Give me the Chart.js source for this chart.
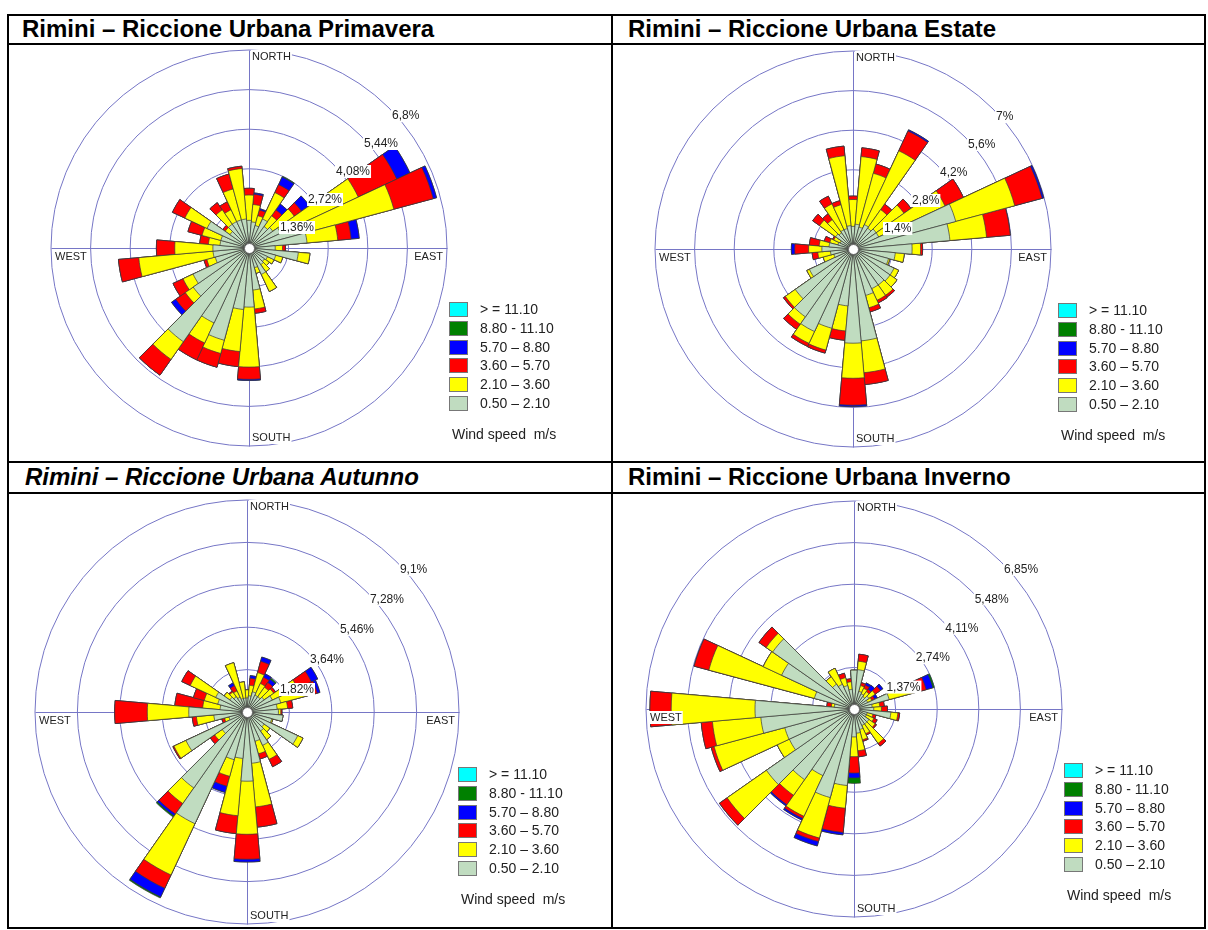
<!DOCTYPE html>
<html>
<head>
<meta charset="utf-8">
<script src="https://cdn.jsdelivr.net/npm/chart.js@4.4.1/dist/chart.umd.min.js"></script>
<style>
body { margin: 0; background: #fff; font-family: "Liberation Sans", Arial, sans-serif; }
#page { position: relative; width: 1208px; height: 930px; overflow: hidden; background: #fff; }
.line { position: absolute; background: #000; }
.title { position: absolute; font-weight: bold; font-size: 24px; line-height: 28px; color: #000; white-space: nowrap; }
.rose { position: absolute; }
.legend { position: absolute; font-size: 14px; color: #222; white-space: nowrap; }
.legend .row { position: absolute; left: 0; height: 15px; line-height: 15px; }
.legend .box { position: absolute; left: 0; top: 0; width: 17px; height: 13px; border: 1px solid #777; }
.legend .txt { position: absolute; left: 31px; top: 0; }
.legend .unit { position: absolute; left: 3px; }
</style>
</head>
<body>
<div id="page">
  <div class="line" style="left:7px;top:14px;width:1199px;height:2px"></div>
  <div class="line" style="left:7px;top:43px;width:1199px;height:2px"></div>
  <div class="line" style="left:7px;top:461px;width:1199px;height:2px"></div>
  <div class="line" style="left:7px;top:492px;width:1199px;height:2px"></div>
  <div class="line" style="left:7px;top:927px;width:1199px;height:2px"></div>
  <div class="line" style="left:7px;top:14px;width:2px;height:915px"></div>
  <div class="line" style="left:611px;top:14px;width:2px;height:915px"></div>
  <div class="line" style="left:1204px;top:14px;width:2px;height:915px"></div>

  <div class="title" style="left:22px;top:15px">Rimini – Riccione Urbana Primavera</div>
  <div class="title" style="left:628px;top:15px">Rimini – Riccione Urbana Estate</div>
  <div class="title" style="left:25px;top:463px;font-style:italic">Rimini – Riccione Urbana Autunno</div>
  <div class="title" style="left:628px;top:463px">Rimini – Riccione Urbana Inverno</div>
</div>

<script>
// wind directions, clockwise from north
const directions = ['0°', '10°', '20°', '30°', '40°', '50°', '60°', '70°', '80°', '90°', '100°', '110°',
    '120°', '130°', '140°', '150°', '160°', '170°', '180°', '190°', '200°', '210°', '220°', '230°',
    '240°', '250°', '260°', '270°', '280°', '290°', '300°', '310°', '320°', '330°', '340°', '350°'];

// speed classes (m/s), inner to outer
const classLabels = ['0.50 – 2.10', '2.10 – 3.60', '3.60 – 5.70', '5.70 – 8.80', '8.80 - 11.10', '> = 11.10'];
const classColors = ['#c0dcc0', '#ffff00', '#ff0000', '#0000ff', '#008000', '#00ffff'];

/* Primavera (% frequency per class) */
const primRings = [1.36, 2.72, 4.08, 5.44, 6.8];
const primRingLabels = ['1,36%', '2,72%', '4,08%', '5,44%', '6,8%'];
const prim050 = [0.95, 0.9, 0.8, 1.1, 0.9, 1.0, 1.2, 2.06, 2.0, 0.9, 1.7, 0.95, 0.7, 0.65, 0.7, 1.0, 0.7, 1.45,
    2.03, 2.12, 3.28, 2.84, 3.93, 2.34, 2.12, 1.2, 1.24, 1.24, 1.0, 1.0, 1.59, 0.8, 1.0, 1.0, 1.0, 1.0];
const prim210 = [0.87, 0.6, 0.35, 1.0, 0.45, 0.9, 2.94, 3.09, 1.06, 0.25, 0.4, 0.25, 0.25, 0.2, 0.3, 0.65, 0.2, 0.65,
    2.06, 1.45, 0.47, 0.76, 0.74, 0.33, 0.38, 0.3, 2.56, 1.31, 0.4, 0.67, 0.84, 0.2, 0.6, 0.45, 1.1, 1.74];
const prim360 = [0.23, 0.35, 0.2, 0.3, 0.25, 0.3, 1.46, 1.4, 0.46, 0.1, 0, 0, 0, 0, 0, 0, 0, 0.15,
    0.42, 0.52, 0.49, 0.64, 0.66, 0.4, 0.38, 0.1, 0.7, 0.63, 0.3, 0.5, 0.47, 0.1, 0.3, 0.3, 0.53, 0.08];
const prim570 = [0, 0.05, 0.05, 0.29, 0.25, 0.33, 0.5, 0.12, 0.28, 0, 0, 0, 0, 0, 0, 0, 0, 0,
    0.04, 0, 0, 0, 0, 0.18, 0, 0, 0, 0, 0, 0, 0, 0, 0, 0, 0, 0];
const prim880 = [0, 0, 0, 0.03, 0, 0, 0, 0, 0, 0, 0, 0, 0, 0, 0, 0, 0, 0,
    0, 0, 0, 0, 0, 0, 0, 0, 0, 0, 0, 0, 0, 0, 0, 0, 0, 0];

/* Estate */
const estRings = [1.4, 2.8, 4.2, 5.6, 7];
const estRingLabels = ['1,4%', '2,8%', '4,2%', '5,6%', '7%'];
const est050 = [0.8, 0.88, 0.8, 0.95, 0.9, 1.0, 1.0, 3.76, 3.44, 2.09, 1.5, 1.3, 1.6, 1.6, 1.55, 1.55, 1.7, 3.26,
    3.33, 2.02, 2.9, 3.22, 2.93, 2.49, 1.7, 0.7, 0.8, 1.1, 0.85, 0.55, 0.5, 0.75, 0.7, 0.75, 0.75, 0.83];
const est210 = [0.95, 2.4, 1.97, 2.88, 0.8, 1.2, 2.59, 2.16, 1.3, 0.3, 0.32, 0.05, 0.18, 0.3, 0.45, 0.45, 0.45, 1.13,
    1.24, 0.89, 0.8, 0.46, 0.32, 0.43, 0.1, 0.39, 0.45, 0.47, 0.35, 0.3, 0.25, 0.69, 0.57, 1.01, 0.87, 2.48];
const est360 = [0.12, 0.31, 0.34, 0.77, 0.24, 0.3, 0.72, 1.0, 0.84, 0.07, 0, 0, 0, 0, 0.08, 0.1, 0.15, 0.42,
    0.95, 0.33, 0.11, 0.12, 0.22, 0.08, 0, 0, 0.2, 0.49, 0.35, 0.2, 0.05, 0.3, 0.25, 0.3, 0.15, 0.34];
const est570 = [0, 0, 0, 0.05, 0, 0, 0, 0.06, 0, 0, 0, 0, 0, 0, 0, 0, 0, 0,
    0.05, 0, 0, 0, 0, 0, 0, 0, 0, 0.12, 0, 0, 0, 0, 0, 0, 0, 0];
const est880 = [0, 0, 0, 0, 0, 0, 0, 0, 0, 0, 0, 0, 0, 0, 0, 0, 0, 0,
    0, 0, 0, 0, 0, 0, 0, 0, 0, 0, 0, 0, 0, 0, 0, 0, 0, 0];

/* Autunno */
const autRings = [1.82, 3.64, 5.46, 7.28, 9.1];
const autRingLabels = ['1,82%', '3,64%', '5,46%', '7,28%', '9,1%'];
const aut050 = [0.6, 0.7, 0.9, 0.8, 0.8, 0.9, 1.2, 1.5, 1.3, 1.35, 1.55, 1.1, 2.4, 0.9, 1.0, 1.58, 1.3, 2.21,
    2.97, 2.0, 2.12, 5.29, 3.98, 1.3, 2.89, 0.8, 1.43, 2.5, 1.16, 1.3, 1.48, 0.9, 0.8, 0.7, 0.6, 0.6];
const aut210 = [0.35, 0.45, 0.85, 0.55, 0.5, 0.5, 1.2, 1.2, 0.45, 0.1, 0, 0.05, 0.25, 0.3, 0.45, 0.66, 0.56, 1.88,
    2.28, 2.47, 0.74, 2.43, 0.82, 0.4, 0.57, 0.2, 0.75, 1.78, 0.75, 0.6, 1.21, 0.3, 0.25, 0.3, 1.59, 0.7];
const aut360 = [0, 0.3, 0.5, 0.3, 0.25, 0.1, 0.65, 0.42, 0.22, 0.05, 0, 0, 0, 0, 0, 0.35, 0.23, 0.87,
    1.07, 0.77, 0.44, 0.63, 0.55, 0.23, 0.05, 0.12, 0.18, 1.4, 1.2, 0.48, 0.4, 0, 0.05, 0.25, 0, 0];
const aut570 = [0, 0.12, 0.19, 0.16, 0.17, 0, 0.3, 0.12, 0, 0, 0, 0, 0, 0, 0, 0, 0, 0,
    0.12, 0, 0.28, 0.41, 0.1, 0, 0, 0, 0, 0, 0, 0, 0, 0, 0, 0.13, 0, 0];
const aut880 = [0, 0, 0, 0, 0.06, 0, 0, 0, 0, 0, 0, 0, 0, 0, 0, 0, 0, 0,
    0, 0, 0, 0.05, 0.06, 0, 0, 0, 0, 0, 0, 0, 0, 0, 0, 0, 0, 0];

/* Inverno */
const invRings = [1.37, 2.74, 4.11, 5.48, 6.85];
const invRingLabels = ['1,37%', '2,74%', '4,11%', '5,48%', '6,85%'];
const inv050 = [1.28, 1.3, 0.6, 0.55, 0.5, 0.6, 0.5, 1.2, 0.6, 0.65, 1.22, 0.45, 0.45, 0.6, 0.6, 0.6, 0.7, 0.8,
    0.92, 2.53, 3.02, 2.42, 2.84, 3.52, 2.35, 2.36, 3.08, 3.26, 0.65, 1.35, 2.63, 3.27, 1.0, 0.9, 0.8, 0.65];
const inv210 = [0, 0.28, 0.2, 0.2, 0.2, 0.25, 0.15, 0.94, 0.25, 0.25, 0.23, 0.2, 0.27, 0.25, 0.78, 0.3, 0.35, 0.58,
    0.65, 0.75, 1.38, 1.48, 0.63, 1.58, 0.44, 2.41, 1.6, 2.76, 0.1, 3.6, 0.67, 0.26, 0.3, 0.58, 0.27, 0.25];
const inv360 = [0, 0.23, 0.1, 0.12, 0.1, 0.21, 0.1, 0.32, 0.15, 0.2, 0.06, 0.1, 0.12, 0.05, 0.11, 0.05, 0.05, 0.2,
    0.54, 0.8, 0.12, 0.08, 0.38, 0.31, 0, 0.1, 0.37, 0.7, 0.15, 0.5, 0, 0.29, 0, 0, 0.15, 0.1];
const inv570 = [0, 0, 0, 0.08, 0.16, 0.1, 0.1, 0.23, 0, 0, 0, 0, 0, 0, 0, 0, 0, 0,
    0.16, 0.08, 0.15, 0.06, 0.05, 0, 0, 0, 0, 0, 0, 0, 0, 0, 0, 0, 0, 0];
const inv880 = [0, 0, 0, 0, 0, 0, 0, 0.05, 0, 0, 0, 0, 0, 0, 0, 0, 0, 0,
    0.18, 0, 0, 0, 0, 0, 0, 0, 0, 0, 0, 0, 0, 0, 0, 0, 0, 0];

const GRID = '#7676c6';
const PAD = 12;

// placement of each rose on the page (centre, radius, legend corner)
const roses = [
    { cx: 249, cy: 248, R: 198, rings: primRings, ringLabels: primRingLabels,
      classes: [prim050, prim210, prim360, prim570, prim880], lx: 449, ly: 302 },
    { cx: 853, cy: 249, R: 198, rings: estRings, ringLabels: estRingLabels,
      classes: [est050, est210, est360, est570, est880], lx: 1058, ly: 303 },
    { cx: 247, cy: 712, R: 212, rings: autRings, ringLabels: autRingLabels,
      classes: [aut050, aut210, aut360, aut570, aut880], lx: 458, ly: 767 },
    { cx: 854, cy: 709, R: 208, rings: invRings, ringLabels: invRingLabels,
      classes: [inv050, inv210, inv360, inv570, inv880], lx: 1064, ly: 763 }
];

function labelBox(ctx, txt, x, y) {
    const w = ctx.measureText(txt).width;
    ctx.fillStyle = '#fff';
    ctx.fillRect(x - 1, y - 1, w + 2, 13);
    ctx.fillStyle = '#222';
    ctx.fillText(txt, x, y);
    return w;
}

const roseExtras = {
    id: 'roseExtras',
    beforeDatasetsDraw(chart) {
        const s = chart.scales.r, ctx = chart.ctx;
        const x = s.xCenter + 0.5, y = s.yCenter + 0.5, R = s.drawingArea;
        ctx.save();
        ctx.strokeStyle = GRID;
        ctx.lineWidth = 1;
        ctx.beginPath();
        ctx.moveTo(x - R, y); ctx.lineTo(x + R, y);
        ctx.moveTo(x, y - R); ctx.lineTo(x, y + R);
        ctx.stroke();
        ctx.restore();
    },
    afterDatasetsDraw(chart, args, opts) {
        const s = chart.scales.r, ctx = chart.ctx;
        const x = s.xCenter, y = s.yCenter, R = s.drawingArea;
        ctx.save();

        // white hub in the middle
        ctx.beginPath();
        ctx.arc(x + 0.5, y + 0.5, 5, 0, Math.PI * 2);
        ctx.fillStyle = '#fff';
        ctx.fill();
        ctx.strokeStyle = '#666';
        ctx.lineWidth = 1;
        ctx.stroke();

        // ring values along the 45° diagonal
        ctx.font = '12px "Liberation Sans", Arial, sans-serif';
        ctx.textAlign = 'left';
        ctx.textBaseline = 'top';
        s.ticks.slice(1).forEach((t, i) => {
            const r = s.getDistanceFromCenterForValue(t.value);
            labelBox(ctx, opts.labels[i], x + r * Math.SQRT1_2 + 3, y - r * Math.SQRT1_2 + 2);
        });

        // compass names
        ctx.font = '11px "Liberation Sans", Arial, sans-serif';
        labelBox(ctx, 'NORTH', x + 3, y - R + 1);
        labelBox(ctx, 'SOUTH', x + 3, y + R - 14);
        labelBox(ctx, 'WEST', x - R + 4, y + 3);
        const w = ctx.measureText('EAST').width;
        labelBox(ctx, 'EAST', x + R - 4 - w, y + 3);
        ctx.restore();
    }
};

function cumulative(classes) {
    let run = directions.map(() => 0);
    return classes.map(arr => {
        run = run.map((v, i) => v + arr[i]);
        return run;
    });
}

const page = document.getElementById('page');

roses.forEach(rose => {
    const size = rose.R * 2 + PAD * 2;
    const canvas = document.createElement('canvas');
    canvas.className = 'rose';
    canvas.width = size;
    canvas.height = size;
    canvas.style.left = (rose.cx - rose.R - PAD) + 'px';
    canvas.style.top = (rose.cy - rose.R - PAD) + 'px';
    page.appendChild(canvas);

    const stacks = cumulative(rose.classes);
    const datasets = stacks.map((data, k) => ({
        label: classLabels[k],
        data: data,
        backgroundColor: classColors[k],
        borderColor: '#3a3a3a',
        borderWidth: 0.7
    }));

    new Chart(canvas, {
        type: 'polarArea',
        data: { labels: directions, datasets: datasets },
        options: {
            responsive: false,
            animation: false,
            layout: { padding: PAD },
            plugins: {
                legend: { display: false },
                tooltip: { enabled: false },
                roseExtras: { labels: rose.ringLabels }
            },
            scales: {
                r: {
                    min: 0,
                    max: rose.rings[rose.rings.length - 1],
                    startAngle: -5,
                    afterBuildTicks: s => { s.ticks = [0, ...rose.rings].map(v => ({ value: v })); },
                    ticks: { display: false },
                    grid: { color: GRID, lineWidth: 1, circular: true },
                    angleLines: { display: false },
                    pointLabels: { display: false }
                }
            }
        },
        plugins: [roseExtras]
    });

    // legend, outermost class on top
    const lg = document.createElement('div');
    lg.className = 'legend';
    lg.style.left = rose.lx + 'px';
    lg.style.top = rose.ly + 'px';
    let html = '';
    classLabels.slice().reverse().forEach((lab, i) => {
        const col = classColors[classLabels.length - 1 - i];
        html += `<div class="row" style="top:${(i * 18.8).toFixed(1)}px">
            <div class="box" style="background:${col}"></div>
            <div class="txt">${lab}</div></div>`;
    });
    html += '<div class="unit" style="top:124px">Wind speed&nbsp; m/s</div>';
    lg.innerHTML = html;
    page.appendChild(lg);
});
</script>
</body>
</html>
